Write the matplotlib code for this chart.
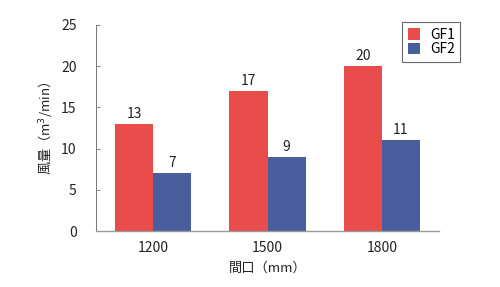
import matplotlib
matplotlib.use("Agg")
import matplotlib.pyplot as plt
import numpy as np

plt.rcParams['font.family'] = ['Noto Sans CJK JP', 'DejaVu Sans']

categories = ['1200', '1500', '1800']
gf1 = [13, 17, 20]
gf2 = [7, 9, 11]
yticks = [0, 5, 10, 15, 20, 25]

red = '#E84C4B'
blue = '#4A5E9E'

fig = plt.figure(figsize=(5.0, 2.87), dpi=100)
ax = fig.add_axes([0.192, 0.195, 0.686, 0.718])

x = np.arange(len(categories))
w = 0.333
b1 = ax.bar(x - w / 2, gf1, width=w, color=red, label='GF1')
b2 = ax.bar(x + w / 2, gf2, width=w, color=blue, label='GF2')

for bars, vals in ((b1, gf1), (b2, gf2)):
    for r, v in zip(bars, vals):
        ax.text(r.get_x() + r.get_width() / 2, v + 0.4, str(v),
                ha='center', va='bottom', fontsize=10, color='#222222')

ax.set_xlim(-0.5, 2.5)
ax.set_ylim(0, 25)
ax.set_yticks(yticks)
ax.set_xticks(x)
ax.set_xticklabels(categories)
ax.tick_params(axis='x', length=0, pad=7, labelsize=10, colors='#222222')
ax.tick_params(axis='y', direction='in', length=3, width=0.6, pad=14,
               labelsize=10, colors='#222222', color='#777777')

for s in ['top', 'right']:
    ax.spines[s].set_visible(False)
ax.spines['left'].set_color('#777777')
ax.spines['bottom'].set_color('#999999')
ax.spines['left'].set_linewidth(0.7)
ax.spines['bottom'].set_linewidth(1.0)

ax.set_ylabel('風量（m$^3$/min）', fontsize=9.5, color='#222222', labelpad=5)
ax.set_xlabel('間口（mm）', fontsize=9.5, color='#222222', labelpad=5)

leg = fig.legend(handles=[b1, b2], loc='upper left',
                 bbox_to_anchor=(0.804, 0.923), borderaxespad=0,
                 frameon=True, fancybox=False,
                 fontsize=10, handlelength=0.9, handleheight=0.9,
                 handletextpad=0.7, borderpad=0.4, labelspacing=0.05)
leg.get_frame().set_edgecolor('#444444')
leg.get_frame().set_linewidth(0.8)

fig.savefig('out.png', dpi=100)
